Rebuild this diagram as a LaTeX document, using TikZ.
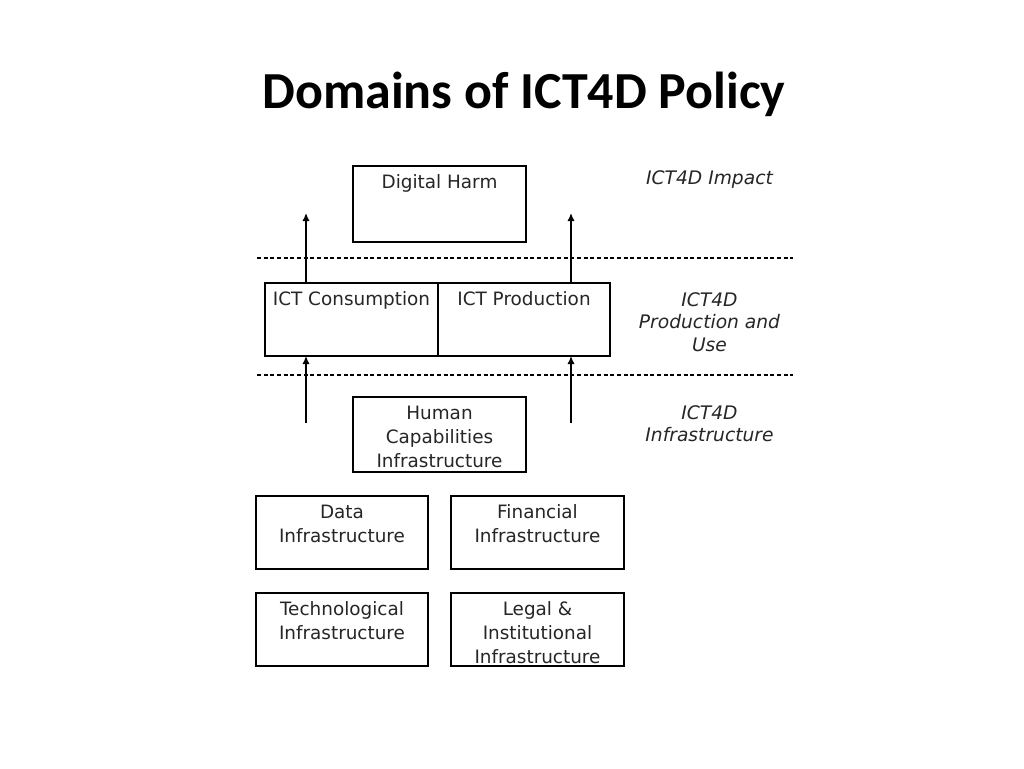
\documentclass[tikz,border=0pt]{standalone}
\usepackage{fontspec}
\setmainfont{DejaVu Sans}
\newfontfamily\titlefont{Carlito}
\usetikzlibrary{arrows.meta}
\begin{document}
\begin{tikzpicture}[x=0.75pt,y=-0.75pt,
  box/.style={draw, line width=1.3pt, outer sep=0pt, inner sep=0pt, rectangle},
  btext/.style={font=\fontsize{13.8}{18}\selectfont, align=center, inner sep=0pt, text=black!85, anchor=north},
  side/.style={font=\fontsize{14}{17}\selectfont\itshape, align=center, inner sep=0pt, anchor=north, text=black!85},
  arr/.style={line width=1.4pt, -{Latex[length=6pt,width=5.5pt]}},
  sep/.style={dash pattern=on 3pt off 2pt, line width=0.9pt}]
\useasboundingbox[fill=white] (0,0) rectangle (1024,768);

% title
\node[font=\titlefont\bfseries\fontsize{39}{44}\selectfont, anchor=base, inner sep=0pt] (title) at (524,108) {Domains of ICT4D Policy};

% boxes
\node[box, minimum width=129.75pt, minimum height=57pt] (dh) at (439.5,204) {};
\node[box, minimum width=129.75pt, minimum height=54.75pt] (cons) at (351.5,319.5) {};
\node[box, minimum width=129pt, minimum height=54.75pt] (prod) at (524,319.5) {};
\node[box, minimum width=129.75pt, minimum height=56.25pt] (hum) at (439.5,434.5) {};
\node[box, minimum width=129pt, minimum height=54.75pt] (data) at (342,532.5) {};
\node[box, minimum width=129.75pt, minimum height=54.75pt] (fin) at (537.5,532.5) {};
\node[box, minimum width=129pt, minimum height=54.75pt] (tech) at (342,629.5) {};
\node[box, minimum width=129.75pt, minimum height=54.75pt] (legal) at (537.5,629.5) {};

% box texts
\node[btext] (dht) at ([yshift=-6.5pt]dh.north) {Digital Harm};
\node[btext] (const) at ([yshift=-6.5pt]cons.north) {ICT Consumption};
\node[btext] (prodt) at ([yshift=-6.5pt]prod.north) {ICT Production};
\node[btext] (humt) at ([yshift=-6.5pt]hum.north) {Human\\Capabilities\\Infrastructure};
\node[btext] (datat) at ([yshift=-6.5pt]data.north) {Data\\Infrastructure};
\node[btext] (fint) at ([yshift=-6.5pt]fin.north) {Financial\\Infrastructure};
\node[btext] (techt) at ([yshift=-6.5pt]tech.north) {Technological\\Infrastructure};
\node[btext] (legalt) at ([yshift=-6.5pt]legal.north) {Legal \&\\Institutional\\Infrastructure};

% side labels
\node[side] (s1) at (709.5,170) {ICT4D Impact};
\node[side] (s2) at (709.5,292) {ICT4D\\Production and\\Use};
\node[side] (s3) at (709.5,405) {ICT4D\\Infrastructure};

% dashed separators
\coordinate (d1a) at (257,258);
\coordinate (d1b) at (793,258);
\coordinate (d2a) at (257,375);
\coordinate (d2b) at (793,375);
\draw[sep] (d1a) -- (d1b);
\draw[sep] (d2a) -- (d2b);

% arrows
\coordinate (u1) at (306,213);
\coordinate (u2) at (571,213);
\coordinate (l1) at (306,423);
\coordinate (l2) at (571,423);
\draw[arr] (cons.north -| u1) -- (u1);
\draw[arr] (prod.north -| u2) -- (u2);
\draw[arr] (l1) -- (cons.south -| l1);
\draw[arr] (l2) -- (prod.south -| l2);
\end{tikzpicture}
\end{document}
